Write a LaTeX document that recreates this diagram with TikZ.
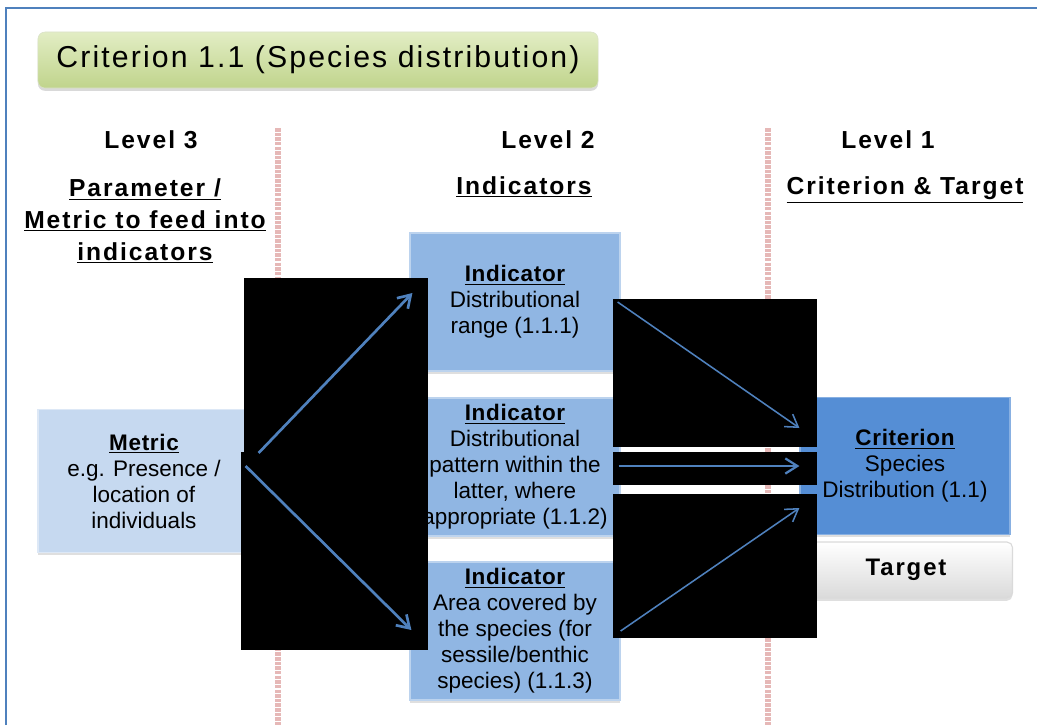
\documentclass[tikz,border=0pt]{standalone}
\usepackage{fontspec}
\setmainfont{Liberation Sans}
\newfontfamily\headfont[LetterSpace=8]{Liberation Sans}
\newfontfamily\titlefont[LetterSpace=7]{Liberation Sans}
\newfontfamily\labelfont[LetterSpace=3]{Liberation Sans}
\usetikzlibrary{arrows.meta,calc,shadows}
\definecolor{frameblue}{RGB}{79,129,189}
\definecolor{metricfill}{RGB}{198,217,240}
\definecolor{indfill}{RGB}{144,182,227}
\definecolor{critfill}{RGB}{85,142,213}
\definecolor{leaftop}{RGB}{226,237,196}
\definecolor{leafbot}{RGB}{192,212,140}
\definecolor{blush}{RGB}{230,184,183}
\definecolor{ash}{RGB}{218,218,218}

\begin{document}
\begin{tikzpicture}[x=0.025cm,y=-0.025cm,
  box/.style={minimum width=5.25cm,minimum height=3.45cm,align=center,inner sep=2pt,line width=.8pt,font=\fontsize{16}{18.5}\selectfont,drop shadow={shadow xshift=0pt,shadow yshift=-2pt,opacity=.25}},
  head/.style={font=\headfont\bfseries\fontsize{17.5}{22.7}\selectfont,align=center},
  link/.style={-{Straight Barb[length=3mm,width=3.8mm]},draw=frameblue,line width=1.9pt},
  thinlink/.style={link,line width=1.1pt},
  divider/.style={draw=blush,line width=4.2pt,dash pattern=on 2.5pt off .8pt}]
\useasboundingbox (0,0) rectangle (1037,725);
% frame and column dividers
\draw[frameblue,line width=2pt] (6,725) -- (6,8) -- (1037,8);
\draw[divider] (278,128) -- (278,725);
\draw[divider] (768,128) -- (768,725);
% title
\node[rounded corners=5pt,top color=leaftop,bottom color=leafbot,draw=leafbot!85!black!40!white,minimum width=14cm,minimum height=1.4cm,font=\titlefont\fontsize{21.5}{24}\selectfont,drop shadow={shadow xshift=0pt,shadow yshift=-2pt,opacity=.3}] (crit11) at (318,60) {Criterion 1.1 (Species distribution)};
% column heads
\node[head] (lvl3) at (151,140) {Level 3};
\node[head] (param) at (145,221) {\underline{Parameter /}\\\underline{Metric to feed into}\\\underline{indicators}};
\node[head] (lvl2) at (548,140) {Level 2};
\node[head] (indhead) at (524,187) {\underline{Indicators}};
\node[head] (lvl1) at (888,140) {Level 1};
\node[head] (crithead) at (905,190) {\underline{Criterion \& Target}};
% boxes
\node[box,fill=metricfill,draw=metricfill!60!white,minimum width=5.3cm,minimum height=3.575cm] (metric) at (144,481) {\underline{\labelfont\bfseries Metric}\\e.g. Presence /\\location of\\individuals};
\node[box,fill=indfill,draw=indfill!60!white] (ind1) at (515,302) {\underline{\labelfont\bfseries Indicator}\\Distributional\\range (1.1.1)};
\node[box,fill=indfill,draw=indfill!60!white] (ind2) at (515,467) {\underline{\labelfont\bfseries Indicator}\\Distributional\\pattern within the\\latter, where\\appropriate (1.1.2)};
\node[box,fill=indfill,draw=indfill!60!white] (ind3) at (515,631) {\underline{\labelfont\bfseries Indicator}\\Area covered by\\the species (for\\sessile/benthic\\species) (1.1.3)};
\node[box,fill=critfill,draw=critfill!70!white,minimum height=3.425cm] (crit) at (905,466) {\underline{\labelfont\bfseries Criterion}\\Species\\Distribution (1.1)};
\node[box,rounded corners=4pt,top color=white,bottom color=ash,draw=ash,minimum width=5.325cm,minimum height=1.4cm,font=\headfont\bfseries\fontsize{17}{20}\selectfont] (target) at (906,570) {Target};
% black patches
\fill (244,278) rectangle (428,452);
\fill (241,452) rectangle (428,650);
\fill (613,299) rectangle (817,447);
\fill (613,452) rectangle (817,485);
\fill (613,494) rectangle (817,638);
% links
\draw[link] ($(metric.east)+(8,-28)$) -- ($(ind1.west)+(3,-9)$);
\draw[link] ($(metric.east)+(-5,-15)$) -- ($(ind3.west)+(2,-1)$);
\draw[thinlink] ($(ind1.east)+(-3,0)$) -- ($(crit.west)+(0,-38)$);
\draw[link,line width=1.6pt] ($(ind2.east)+(-2,-1)$) -- (crit.west);
\draw[thinlink] (ind3.east) -- ($(crit.west)+(0,42)$);
\end{tikzpicture}
\end{document}
